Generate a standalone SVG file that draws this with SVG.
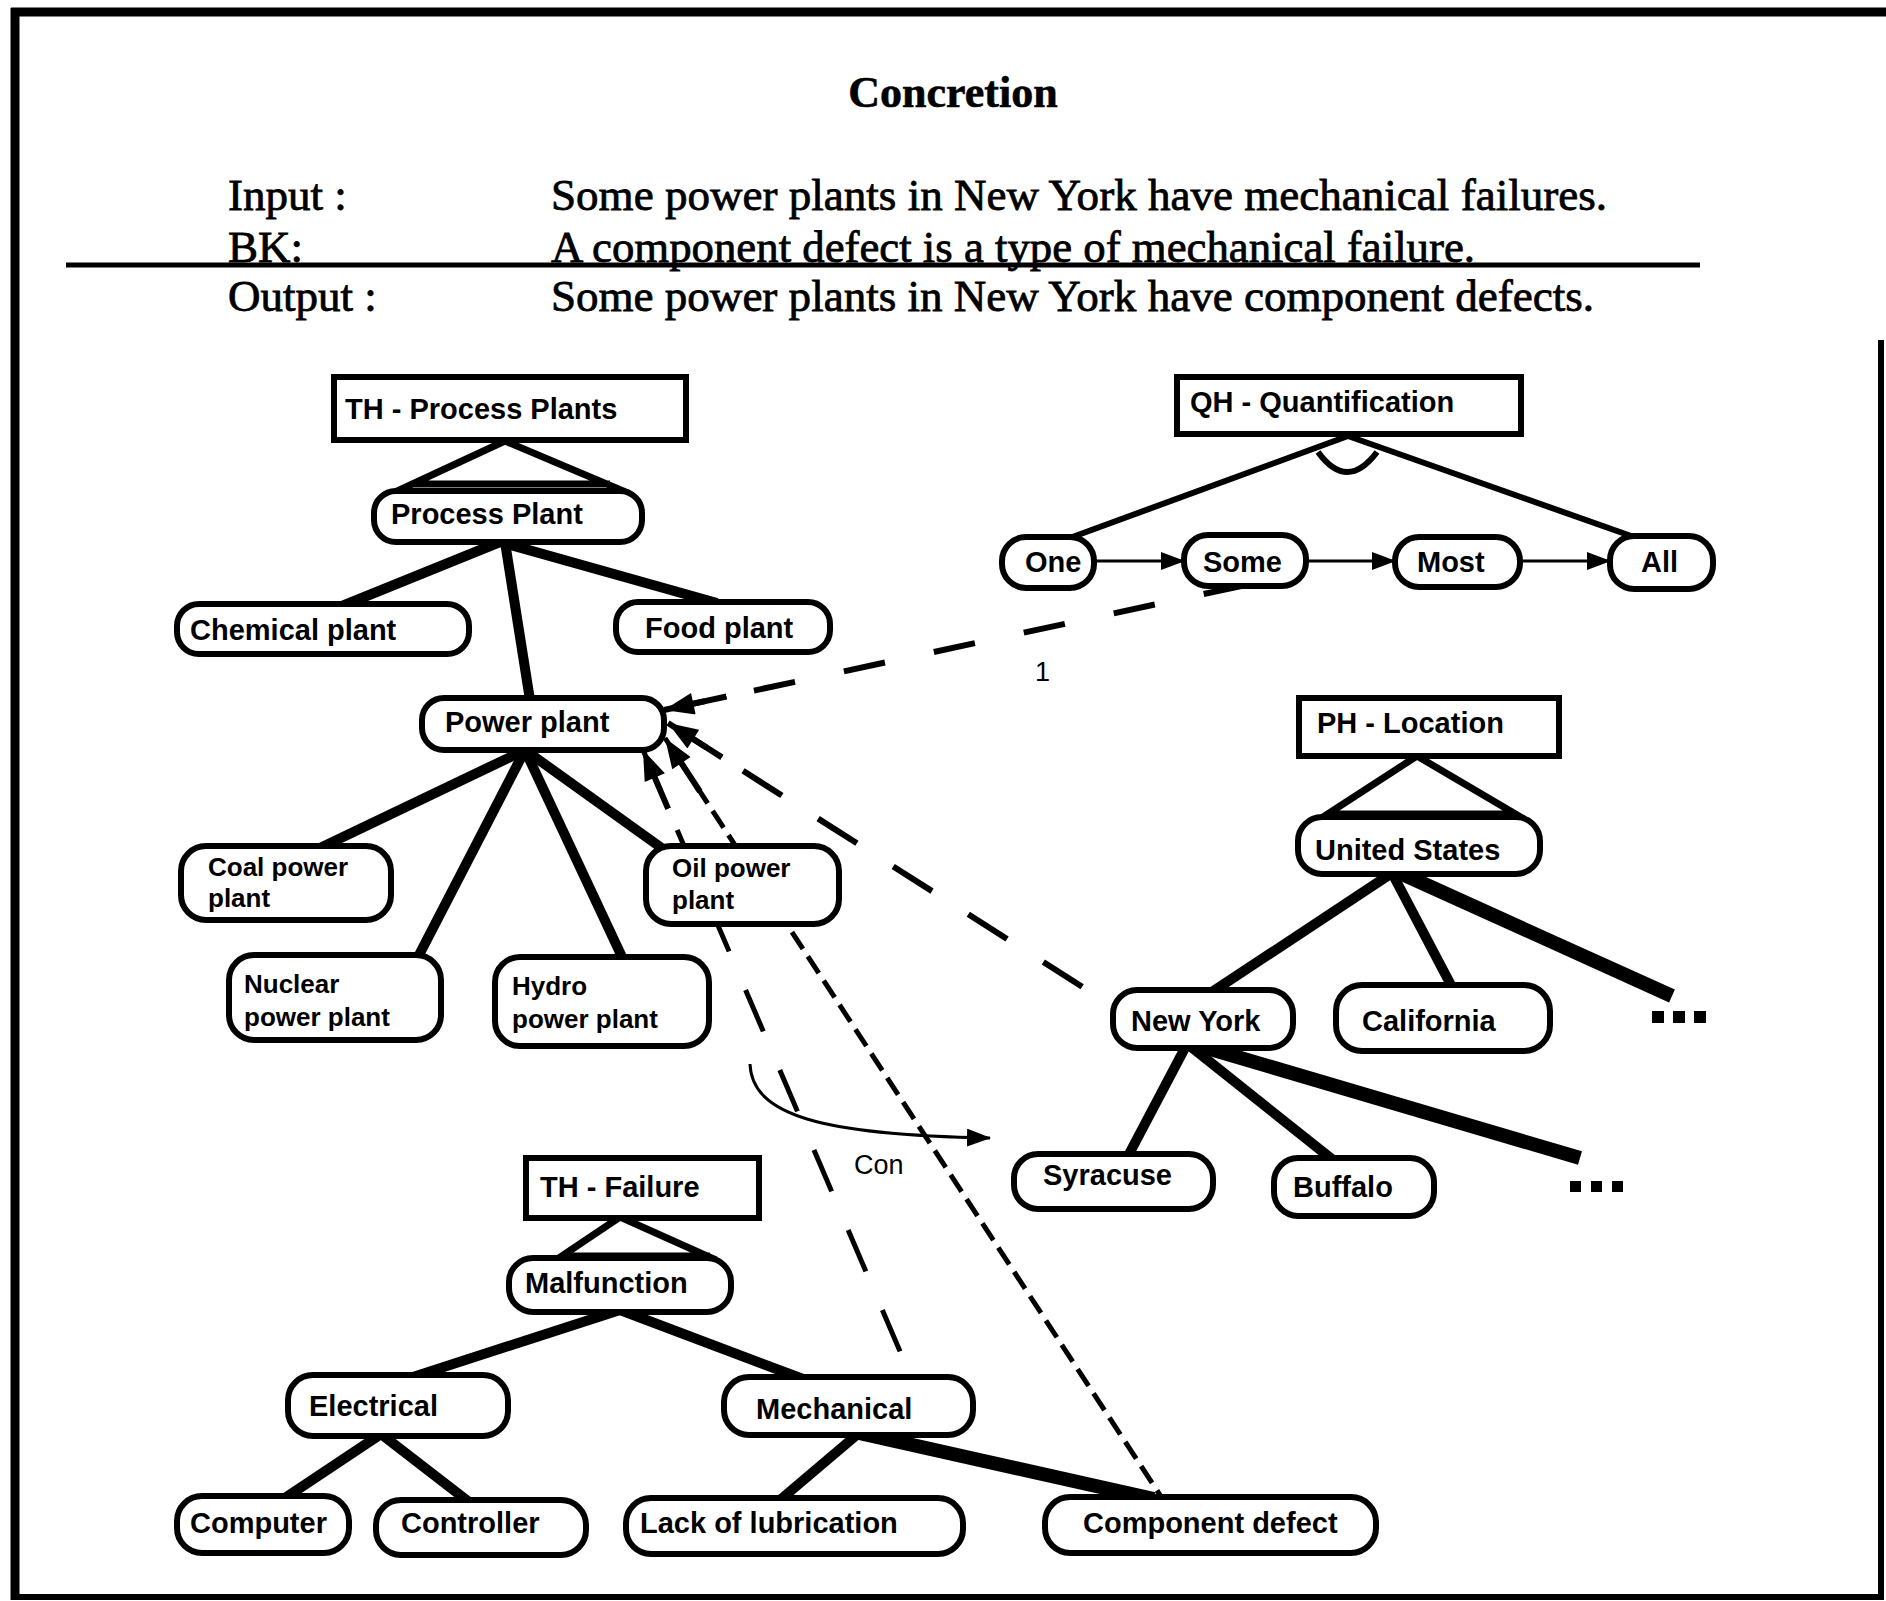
<svg xmlns="http://www.w3.org/2000/svg" width="1886" height="1601" viewBox="0 0 1886 1601">
  <defs>
    <style>
      .frame { stroke: #000; stroke-linecap: butt; fill: none; }
      .serif { font-family: "Liberation Serif", "Times New Roman", serif; font-size: 45px; fill: #000; stroke: #000; stroke-width: 0.8px; }
      .title { font-family: "Liberation Serif", "Times New Roman", serif; font-size: 44px; font-weight: bold; fill: #000; stroke: #000; stroke-width: 0.6px; }
      .node rect { fill: #fff; stroke: #000; stroke-width: 6; }
      .node text { font-family: "Liberation Sans", Arial, sans-serif; font-size: 29px; font-weight: bold; fill: #000; }
      .node text.two { font-size: 26px; }
      .edge { stroke: #000; stroke-width: 10; fill: none; stroke-linecap: butt; }
      .edge.thick { stroke-width: 14; }
      .edge.thin { stroke-width: 6; }
      .tri { stroke: #000; stroke-width: 7; fill: none; }
      .seq { stroke: #000; stroke-width: 3; fill: none; marker-end: url(#headSmall); }
      .link { stroke: #000; fill: none; marker-start: url(#headBig); }
      .lbl { font-family: "Liberation Sans", Arial, sans-serif; font-size: 27px; fill: #000; }
    </style>
    <marker id="headSmall" markerUnits="userSpaceOnUse" viewBox="0 0 24 18" markerWidth="24" markerHeight="18" refX="23" refY="9" orient="auto">
      <path d="M0,0 L24,9 L0,18 Z" fill="#000"/>
    </marker>
    <marker id="headBig" markerUnits="userSpaceOnUse" viewBox="-34 0 64 22" markerWidth="64" markerHeight="22" refX="30" refY="11" orient="auto-start-reverse">
      <path d="M0,0 L30,11 L0,22 Z M-34,8 L1,8 L1,14 L-34,14 Z" fill="#000"/>
    </marker>
  </defs>

  <rect x="0" y="0" width="1886" height="1601" fill="#fff"/>

  <!-- page frame -->
  <g id="frame" class="frame">
    <line x1="11" y1="12" x2="1886" y2="12" stroke-width="9"/>
    <line x1="15" y1="8" x2="15" y2="1600" stroke-width="9"/>
    <line x1="11" y1="1597" x2="1884" y2="1597" stroke-width="6"/>
    <line x1="1881" y1="340" x2="1881" y2="1600" stroke-width="6"/>
  </g>

  <!-- heading and worked example -->
  <g id="heading">
    <text class="title" x="953" y="107" text-anchor="middle">Concretion</text>
    <text class="serif" x="228" y="210">Input :</text>
    <text class="serif" x="551" y="210" textLength="1056" lengthAdjust="spacingAndGlyphs">Some power plants in New York have mechanical failures.</text>
    <text class="serif" x="228" y="262">BK:</text>
    <text class="serif" x="551" y="262" textLength="924" lengthAdjust="spacingAndGlyphs">A component defect is a type of mechanical failure.</text>
    <line x1="66" y1="265" x2="1700" y2="265" stroke="#000" stroke-width="5"/>
    <text class="serif" x="228" y="311">Output :</text>
    <text class="serif" x="551" y="311" textLength="1043" lengthAdjust="spacingAndGlyphs">Some power plants in New York have component defects.</text>
  </g>

  <!-- connectors -->
  <g id="connectors">
    <!-- hierarchy roots -->
    <path class="tri" d="M505,441 L393,493 M505,441 L628,493 M411,484 L610,484"/>
    <path class="tri" d="M1417,756 L1320,819 M1417,756 L1524,819 M1330,814 L1512,814"/>
    <path class="tri" d="M620,1217 L556,1260 M620,1217 L716,1260 M562,1256 L710,1256"/>

    <!-- process plants -->
    <line class="edge" x1="500" y1="542" x2="342" y2="606"/>
    <line class="edge" x1="500" y1="542" x2="717" y2="603"/>
    <line class="edge" x1="505" y1="542" x2="530" y2="700"/>
    <line class="edge" x1="525" y1="750" x2="320" y2="848"/>
    <line class="edge" x1="525" y1="750" x2="418" y2="957"/>
    <line class="edge" x1="525" y1="750" x2="623" y2="959"/>
    <line class="edge" x1="525" y1="750" x2="663" y2="849"/>

    <!-- quantification -->
    <line class="edge thin" x1="1348" y1="436" x2="1067" y2="539"/>
    <line class="edge thin" x1="1348" y1="436" x2="1634" y2="537"/>
    <path d="M1318,452 Q1347,492 1377,452" stroke="#000" stroke-width="6" fill="none"/>
    <line class="seq" x1="1094" y1="561" x2="1184" y2="561"/>
    <line class="seq" x1="1306" y1="561" x2="1395" y2="561"/>
    <line class="seq" x1="1520" y1="561" x2="1610" y2="561"/>

    <!-- location -->
    <line class="edge" x1="1392" y1="873" x2="1212" y2="992"/>
    <line class="edge" x1="1392" y1="873" x2="1452" y2="987"/>
    <line class="edge thick" x1="1400" y1="873" x2="1672" y2="996"/>
    <line class="edge" x1="1186" y1="1046" x2="1128" y2="1156"/>
    <line class="edge" x1="1190" y1="1046" x2="1333" y2="1160"/>
    <line class="edge thick" x1="1200" y1="1046" x2="1580" y2="1158"/>

    <!-- failure -->
    <line class="edge" x1="620" y1="1310" x2="413" y2="1377"/>
    <line class="edge" x1="620" y1="1310" x2="803" y2="1379"/>
    <line class="edge" x1="381" y1="1434" x2="285" y2="1498"/>
    <line class="edge" x1="381" y1="1434" x2="469" y2="1502"/>
    <line class="edge" x1="859" y1="1433" x2="780" y2="1500"/>
    <line class="edge thick" x1="859" y1="1433" x2="1154" y2="1499"/>

    <!-- concretion links into Power plant -->
    <line class="link" x1="664" y1="710" x2="1255" y2="583" stroke-width="6" stroke-dasharray="42 50"/>
    <line class="link" x1="668" y1="723" x2="1092" y2="993" stroke-width="6" stroke-dasharray="46 43"/>
    <line class="link" x1="665" y1="738" x2="1160" y2="1495" stroke-width="5" stroke-dasharray="20 9"/>
    <line class="link" x1="643" y1="750" x2="911" y2="1377" stroke-width="5" stroke-dasharray="45 42"/>

    <!-- concretion move -->
    <path d="M750,1064 C752,1115 820,1135 990,1138" stroke="#000" stroke-width="3" fill="none" marker-end="url(#headSmall)"/>
    <text class="lbl" x="854" y="1174">Con</text>
    <text class="lbl" x="1035" y="681">1</text>
  </g>

  <!-- nodes -->
  <g id="th-process-plants" class="node"><rect x="334" y="377" width="352" height="63"/><text x="345" y="419">TH - Process Plants</text></g>
  <g id="process-plant" class="node"><rect x="374" y="491" width="268" height="51" rx="22"/><text x="391" y="524">Process Plant</text></g>
  <g id="chemical-plant" class="node"><rect x="177" y="604" width="292" height="50" rx="22"/><text x="190" y="640">Chemical plant</text></g>
  <g id="food-plant" class="node"><rect x="616" y="602" width="214" height="50" rx="22"/><text x="645" y="638">Food plant</text></g>
  <g id="power-plant" class="node"><rect x="422" y="698" width="242" height="52" rx="22"/><text x="445" y="732">Power plant</text></g>
  <g id="coal-power-plant" class="node"><rect x="181" y="846" width="210" height="74" rx="25"/><text class="two" x="208" y="876">Coal power<tspan x="208" y="907">plant</tspan></text></g>
  <g id="oil-power-plant" class="node"><rect x="646" y="846" width="193" height="78" rx="25"/><text class="two" x="672" y="877">Oil power<tspan x="672" y="909">plant</tspan></text></g>
  <g id="nuclear-power-plant" class="node"><rect x="229" y="955" width="212" height="85" rx="25"/><text class="two" x="244" y="993">Nuclear<tspan x="244" y="1026">power plant</tspan></text></g>
  <g id="hydro-power-plant" class="node"><rect x="495" y="957" width="214" height="89" rx="25"/><text class="two" x="512" y="995">Hydro<tspan x="512" y="1028">power plant</tspan></text></g>

  <g id="qh-quantification" class="node"><rect x="1177" y="377" width="344" height="57"/><text x="1190" y="412">QH - Quantification</text></g>
  <g id="one" class="node"><rect x="1002" y="537" width="92" height="51" rx="24"/><text x="1025" y="572">One</text></g>
  <g id="some" class="node"><rect x="1184" y="535" width="122" height="51" rx="24"/><text x="1203" y="572">Some</text></g>
  <g id="most" class="node"><rect x="1395" y="537" width="125" height="50" rx="24"/><text x="1417" y="572">Most</text></g>
  <g id="all" class="node"><rect x="1610" y="536" width="103" height="53" rx="24"/><text x="1641" y="572">All</text></g>

  <g id="ph-location" class="node"><rect x="1299" y="698" width="260" height="58"/><text x="1317" y="733">PH - Location</text></g>
  <g id="united-states" class="node"><rect x="1298" y="817" width="242" height="57" rx="24"/><text x="1315" y="860">United States</text></g>
  <g id="new-york" class="node"><rect x="1113" y="990" width="180" height="58" rx="24"/><text x="1131" y="1031">New York</text></g>
  <g id="california" class="node"><rect x="1336" y="985" width="214" height="66" rx="26"/><text x="1362" y="1031">California</text></g>
  <g id="us-more"><rect x="1652" y="1011" width="12" height="12"/><rect x="1673" y="1011" width="12" height="12"/><rect x="1694" y="1011" width="12" height="12"/></g>
  <g id="syracuse" class="node"><rect x="1014" y="1154" width="199" height="55" rx="24"/><text x="1043" y="1185">Syracuse</text></g>
  <g id="buffalo" class="node"><rect x="1274" y="1158" width="160" height="58" rx="24"/><text x="1293" y="1197">Buffalo</text></g>
  <g id="ny-more"><rect x="1570" y="1181" width="11" height="11"/><rect x="1591" y="1181" width="11" height="11"/><rect x="1612" y="1181" width="11" height="11"/></g>

  <g id="th-failure" class="node"><rect x="526" y="1158" width="233" height="60"/><text x="540" y="1197">TH - Failure</text></g>
  <g id="malfunction" class="node"><rect x="509" y="1258" width="222" height="54" rx="24"/><text x="525" y="1293">Malfunction</text></g>
  <g id="electrical" class="node"><rect x="288" y="1375" width="220" height="61" rx="25"/><text x="309" y="1416">Electrical</text></g>
  <g id="mechanical" class="node"><rect x="724" y="1377" width="249" height="58" rx="25"/><text x="756" y="1419">Mechanical</text></g>
  <g id="computer" class="node"><rect x="177" y="1496" width="172" height="57" rx="25"/><text x="190" y="1533">Computer</text></g>
  <g id="controller" class="node"><rect x="376" y="1500" width="210" height="55" rx="25"/><text x="401" y="1533">Controller</text></g>
  <g id="lack-of-lubrication" class="node"><rect x="626" y="1498" width="337" height="56" rx="25"/><text x="640" y="1533">Lack of lubrication</text></g>
  <g id="component-defect" class="node"><rect x="1045" y="1497" width="331" height="56" rx="25"/><text x="1083" y="1533">Component defect</text></g>
</svg>
